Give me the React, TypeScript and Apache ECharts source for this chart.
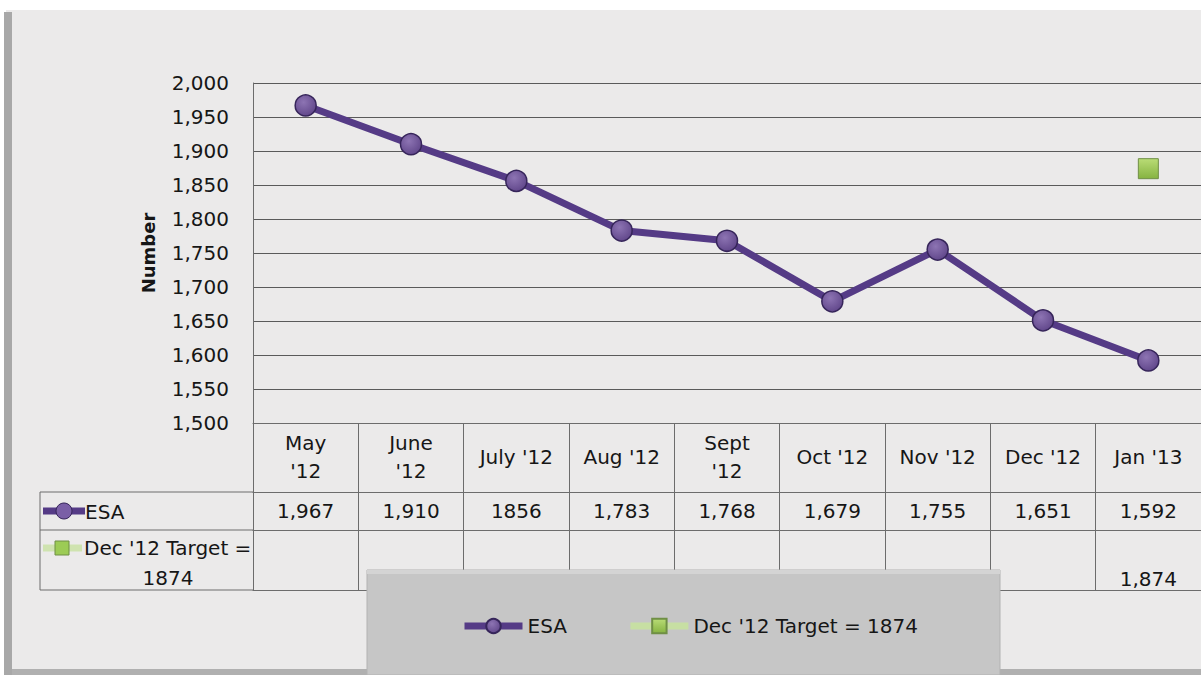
import React, { useEffect, useRef } from "react";
import * as echarts from "echarts";

const headerLabels = ["May\n'12", "June\n'12", "July '12", "Aug '12", "Sept\n'12", "Oct '12", "Nov '12", "Dec '12", "Jan '13"];
const esaValues = [1967, 1910, 1856, 1783, 1768, 1679, 1755, 1651, 1592];
const esaTableText = ["1,967", "1,910", "1856", "1,783", "1,768", "1,679", "1,755", "1,651", "1,592"];
const targetValues: (number | null)[] = [null, null, null, null, null, null, null, null, 1874];
const targetTableText = ["", "", "", "", "", "", "", "", "1,874"];
const seriesNames = ["ESA", "Dec '12 Target = 1874"];
const yMin = 1500;
const yMax = 2000;
const yStep = 50;

const FONT = "'DejaVu Sans', sans-serif";
const TXT = "#161616";
const GRIDC = "#5a5a5a";
const TABLEC = "#6c6c6c";
const FS = 20;

export default function App() {
  const ref = useRef<HTMLDivElement>(null);
  useEffect(() => {
    document.body.style.margin = "0";
    const chart = echarts.init(ref.current!, null, { renderer: "svg" });
    const purple = "#553b86";
    const option: any = {
      animation: false,
      backgroundColor: "#ffffff",
      textStyle: { fontFamily: FONT },
      grid: { left: 253, right: -10, top: 83, bottom: 252, containLabel: false },
      legend: {
        data: seriesNames,
        left: 456,
        top: 611,
        itemWidth: 58,
        itemHeight: 18,
        itemGap: 60,
        z: 20,
        lineStyle: { width: 7 },
        textStyle: { fontSize: FS, color: TXT, fontFamily: FONT },
      },
      xAxis: [
        {
          type: "category",
          data: headerLabels,
          position: "bottom",
          axisLine: { show: true, lineStyle: { color: TABLEC, width: 1 } },
          axisTick: { show: true, length: 167, lineStyle: { color: TABLEC, width: 1 } },
          axisLabel: { interval: 0, fontSize: FS, lineHeight: 28, verticalAlign: "middle", margin: 34, color: TXT, fontFamily: FONT },
          splitLine: { show: false },
        },
        {
          type: "category",
          data: headerLabels,
          position: "bottom",
          offset: 69,
          axisLine: { show: true, lineStyle: { color: TABLEC, width: 1 } },
          axisTick: { show: false },
          axisLabel: { interval: 0, fontSize: FS, verticalAlign: "middle", margin: 19, color: TXT, fontFamily: FONT, formatter: (_v: string, i: number) => esaTableText[i] },
        },
        {
          type: "category",
          data: headerLabels,
          position: "bottom",
          offset: 107,
          axisLine: { show: true, lineStyle: { color: TABLEC, width: 1 } },
          axisTick: { show: false },
          axisLabel: { interval: 0, fontSize: FS, verticalAlign: "middle", margin: 49, color: TXT, fontFamily: FONT, formatter: (_v: string, i: number) => targetTableText[i] },
        },
        {
          type: "category",
          data: headerLabels,
          position: "bottom",
          offset: 167,
          axisLine: { show: true, lineStyle: { color: TABLEC, width: 1 } },
          axisTick: { show: false },
          axisLabel: { show: false },
        },
      ],
      yAxis: {
        type: "value",
        min: yMin,
        max: yMax,
        interval: yStep,
        axisLine: { show: true, lineStyle: { color: TABLEC, width: 1 } },
        axisTick: { show: false },
        splitLine: { show: true, lineStyle: { color: GRIDC, width: 1 } },
        axisLabel: { fontSize: FS, margin: 24, color: TXT, fontFamily: FONT, formatter: (v: number) => v.toLocaleString("en-US") },
        name: "Number",
        nameLocation: "middle",
        nameRotate: 90,
        nameGap: 96,
        nameTextStyle: { fontSize: 18, fontWeight: "bold", color: TXT, fontFamily: FONT },
      },
      series: [
        {
          name: seriesNames[0],
          type: "line",
          data: esaValues,
          xAxisIndex: 0,
          symbol: "circle",
          symbolSize: 21,
          z: 5,
          lineStyle: { color: purple, width: 7 },
          itemStyle: {
            color: new echarts.graphic.RadialGradient(0.4, 0.35, 0.7, [
              { offset: 0, color: "#8d74b3" },
              { offset: 1, color: "#5f4589" },
            ]),
            borderColor: "#36255a",
            borderWidth: 1.5,
          },
        },
        {
          name: seriesNames[1],
          type: "line",
          data: targetValues,
          xAxisIndex: 0,
          symbol: "rect",
          symbolSize: 20,
          z: 5,
          lineStyle: { color: "#c7dfa3", width: 7 },
          itemStyle: {
            color: new echarts.graphic.LinearGradient(0, 0, 0, 1, [
              { offset: 0, color: "#b9dc76" },
              { offset: 1, color: "#86b341" },
            ]),
            borderColor: "#6f8f45",
            borderWidth: 1,
          },
        },
      ],
      graphic: [
        // page/scan background
        { type: "rect", z: -20, shape: { x: 6, y: 10, width: 1195, height: 665 }, style: { fill: "#ebeaea" } },
        { type: "rect", z: -19, shape: { x: 4, y: 12, width: 8, height: 663 }, style: { fill: "#a8a8a8" } },
        { type: "rect", z: -19, shape: { x: 12, y: 669, width: 1189, height: 6 }, style: { fill: "#b0b0b0" } },
        // left column of the data table
        { type: "line", z: 1, shape: { x1: 40, y1: 492, x2: 253, y2: 492 }, style: { stroke: TABLEC, lineWidth: 1 } },
        { type: "line", z: 1, shape: { x1: 40, y1: 530, x2: 253, y2: 530 }, style: { stroke: TABLEC, lineWidth: 1 } },
        { type: "line", z: 1, shape: { x1: 40, y1: 590, x2: 253, y2: 590 }, style: { stroke: TABLEC, lineWidth: 1 } },
        { type: "line", z: 1, shape: { x1: 40, y1: 492, x2: 40, y2: 590 }, style: { stroke: TABLEC, lineWidth: 1 } },
        // row label: ESA
        { type: "line", z: 6, shape: { x1: 43, y1: 511, x2: 85, y2: 511 }, style: { stroke: purple, lineWidth: 7 } },
        { type: "circle", z: 7, shape: { cx: 64, cy: 511, r: 8 }, style: { fill: "#7a5fa6", stroke: "#36255a", lineWidth: 1 } },
        { type: "text", z: 7, x: 85, y: 512, style: { text: "ESA", fontSize: FS, fill: TXT, fontFamily: FONT, verticalAlign: "middle", align: "left" } },
        // row label: target
        { type: "line", z: 6, shape: { x1: 43, y1: 548, x2: 82, y2: 548 }, style: { stroke: "#cfe3b0", lineWidth: 7 } },
        { type: "rect", z: 7, shape: { x: 55, y: 541, width: 14, height: 14 }, style: { fill: "#9ccb55", stroke: "#6f8f45", lineWidth: 1 } },
        { type: "text", z: 7, x: 84, y: 548, style: { text: "Dec '12 Target =", fontSize: FS, fill: TXT, fontFamily: FONT, verticalAlign: "middle", align: "left" } },
        { type: "text", z: 7, x: 168, y: 578, style: { text: "1874", fontSize: FS, fill: TXT, fontFamily: FONT, verticalAlign: "middle", align: "center" } },
        // legend box
        { type: "rect", z: 10, shape: { x: 367, y: 570, width: 633, height: 105 }, style: { fill: "#c6c6c6", stroke: "#b2b2b2", lineWidth: 1 } },
        { type: "rect", z: 10, shape: { x: 367, y: 570, width: 633, height: 4 }, style: { fill: "#d4d4d4" } },
      ],
    };
    chart.setOption(option);
    return () => chart.dispose();
  }, []);
  return <div ref={ref} style={{ width: 1201, height: 675 }} />;
}
